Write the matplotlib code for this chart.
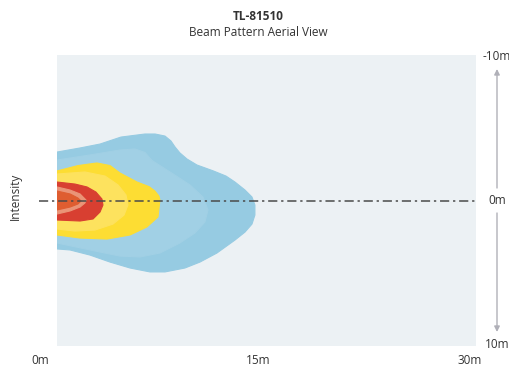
import matplotlib.pyplot as plt

plt.rcParams['font.family'] = ['Open Sans', 'DejaVu Sans']

title = "TL-81510"
subtitle = "Beam Pattern Aerial View"
x_labels = ["0m", "15m", "30m"]
y_labels = ["-10m", "0m", "10m"]

# beam contour outlines, metres (x = distance, y = lateral offset, + is down)
outer_x = [-1, 0, 1.65, 3.08, 4.58, 6.30, 7.02, 7.73, 8.16, 8.45, 8.80, 9.31, 10.02, 11.20, 12.10, 12.74, 13.46, 13.96,
           14.17, 14.17, 13.96, 13.46, 12.74, 11.45, 10.24, 9.16, 7.73, 6.66, 5.23, 3.79, 2.36, 0.93, 0, -1]
outer_y = [-3.3, -3.33, -3.61, -3.88, -4.36, -4.57, -4.57, -4.43, -4.09, -3.68, -3.27, -2.85, -2.44, -2.03, -1.68,
           -1.27, -0.72, -0.24, 0.31, 1.00, 1.62, 2.17, 2.72, 3.61, 4.23, 4.64, 4.91, 4.91, 4.64, 4.23, 3.75, 3.40, 3.33, 3.3]

light_x = [-1, 0, 2.36, 4.51, 5.58, 6.30, 6.80, 8.09, 9.52, 10.45, 10.81, 10.59, 9.88, 8.80, 7.37, 5.94, 4.51, 2.72, 0, -1]
light_y = [-2.7, -2.78, -3.13, -3.47, -3.54, -3.30, -2.75, -1.96, -1.07, -0.24, 0.65, 1.48, 2.23, 2.92, 3.61, 3.88, 3.82, 3.47, 2.92, 2.9]

yellow_x = [-1, 0, 1.50, 2.86, 3.80, 4.51, 5.73, 6.60, 7.01, 7.30, 7.37, 7.23, 6.44, 5.23, 3.58, 1.65, 0, -1]
yellow_y = [-2.0, -2.03, -2.40, -2.58, -2.40, -1.89, -1.27, -0.95, -0.65, -0.30, -0.03, 1.13, 1.82, 2.37, 2.65, 2.58, 2.37, 2.3]

pale_yellow_x = [-1, 0, 2.00, 3.44, 4.37, 4.94, 5.08, 4.80, 4.01, 2.72, 1.29, 0, -1]
pale_yellow_y = [-1.8, -1.82, -1.96, -1.68, -1.07, -0.38, 0.31, 1.00, 1.62, 2.03, 2.10, 1.96, 1.9]

red_x = [-1, 0, 1.29, 2.15, 2.79, 3.22, 3.29, 3.08, 2.58, 1.65, 0, -1]
red_y = [-1.25, -1.27, -1.13, -0.93, -0.58, -0.10, 0.31, 0.79, 1.27, 1.41, 1.34, 1.3]

salmon_x = [-1, 0, 0.93, 1.65, 2.08, 2.00, 1.65, 0.93, 0, -1]
salmon_y = [-0.93, -0.93, -0.72, -0.45, -0.03, 0.17, 0.45, 0.72, 0.93, 0.93]

orange_x = [-1, 0, 0.93, 1.50, 1.72, 1.50, 0.93, 0, -1]
orange_y = [-0.65, -0.65, -0.45, -0.17, 0.03, 0.24, 0.45, 0.65, 0.65]

levels = [
    (outer_x, outer_y, '#96cbe2'),
    (light_x, light_y, '#a1d0e5'),
    (yellow_x, yellow_y, '#fddd33'),
    (pale_yellow_x, pale_yellow_y, '#fde25e'),
    (red_x, red_y, '#d83f31'),
    (salmon_x, salmon_y, '#ea9477'),
    (orange_x, orange_y, '#df5d30'),
]

fig = plt.figure(figsize=(5.1, 3.67), dpi=100)
ax = fig.add_axes([57 / 510, 1 - 346 / 367, 419 / 510, 291 / 367])
ax.set_facecolor('#ecf1f4')
for xs, ys, col in levels:
    ax.fill(xs, ys, color=col, lw=0.8, ec=col, joinstyle='round')
ax.set_xlim(0, 30)
ax.set_ylim(10, -10)
ax.set_xticks([])
ax.set_yticks([])
for s in ax.spines.values():
    s.set_visible(False)

# centre line, runs a little past the left edge
ax.plot([-1.3, 30], [0, 0], color='#4a4a4a', lw=1.1, dashes=(6, 2.5, 1.5, 2.5), clip_on=False)

fig.text(258 / 510, 1 - 17 / 367, title, ha='center', va='center', fontsize=8.5, fontweight='bold', color='#333333')
fig.text(258 / 510, 1 - 33 / 367, subtitle, ha='center', va='center', fontsize=8.5, color='#333333')
fig.text(15 / 510, 1 - 196 / 367, "Intensity", rotation=90, ha='center', va='center', fontsize=8.5, color='#333333')

for lab, px in zip(x_labels, [40, 258, 470]):
    fig.text(px / 510, 1 - 360 / 367, lab, ha='center', va='center', fontsize=8.5, color='#333333')
for lab, py in zip(y_labels, [56, 201, 345]):
    fig.text(497 / 510, 1 - py / 367, lab, ha='center', va='center', fontsize=8.5, color='#333333')

arrow = dict(arrowstyle='-|>', color='#b0b0b8', lw=1.0, mutation_scale=8, shrinkA=0, shrinkB=0)
ax.annotate('', xy=(497 / 510, 1 - 69 / 367), xytext=(497 / 510, 1 - 188 / 367),
            xycoords='figure fraction', textcoords='figure fraction', arrowprops=arrow)
ax.annotate('', xy=(497 / 510, 1 - 332 / 367), xytext=(497 / 510, 1 - 213 / 367),
            xycoords='figure fraction', textcoords='figure fraction', arrowprops=arrow)

plt.savefig('out.png', dpi=100)
